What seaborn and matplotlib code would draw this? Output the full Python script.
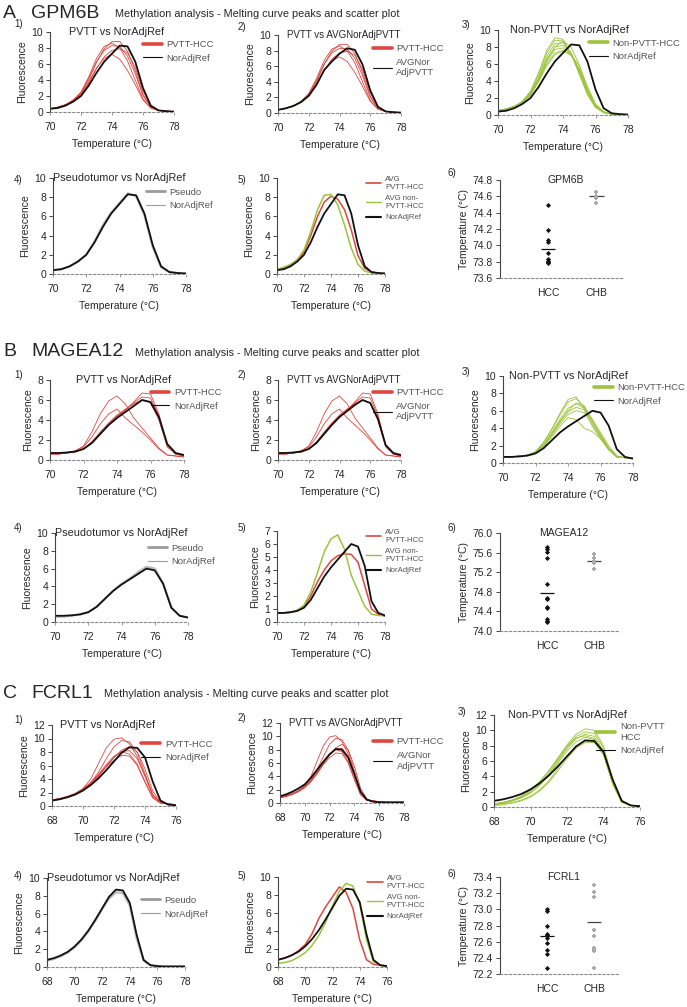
import matplotlib
matplotlib.use("Agg")
import matplotlib.pyplot as plt
from matplotlib.lines import Line2D
import pandas as pd
import seaborn as sns

# ---- shared temperature grids (°C) ----
temp_70_78 = [70.0, 70.5, 71.0, 71.5, 72.0, 72.5, 73.0, 73.5, 74.0, 74.5,
              75.0, 75.5, 76.0, 76.5, 77.0, 77.5, 78.0]
temp_68_78 = [68.0, 68.5, 69.0, 69.5, 70.0, 70.5, 71.0, 71.5, 72.0, 72.5, 73.0,
              73.5, 74.0, 74.5, 75.0, 75.5, 76.0, 76.5, 77.0, 77.5, 78.0]

# ---- A: GPM6B melting curves ----
A_nor = [0.4, 0.5, 0.8, 1.3, 2.0, 3.3, 4.9, 6.3, 7.3, 8.3, 8.2, 6.3, 3.0, 0.8, 0.2, 0.1, 0.05]
A_avgnor = [0.4, 0.6, 0.9, 1.4, 2.2, 3.6, 5.5, 6.6, 7.6, 8.3, 8.1, 6.2, 2.9, 0.8, 0.2, 0.1, 0.05]
A_pseudo = [0.4, 0.5, 0.8, 1.3, 2.0, 3.4, 5.1, 6.4, 7.4, 8.4, 8.1, 6.1, 2.8, 0.7, 0.2, 0.1, 0.05]
A_pvtt = [
    [0.4, 0.6, 0.9, 1.4, 2.3, 4.0, 6.2, 7.9, 8.8, 8.8, 7.6, 5.2, 2.2, 0.6, 0.2, 0.1, 0.05],
    [0.4, 0.6, 0.9, 1.4, 2.2, 3.7, 5.5, 6.7, 7.2, 6.6, 5.2, 3.4, 1.5, 0.5, 0.2, 0.1, 0.05],
    [0.4, 0.6, 0.9, 1.5, 2.4, 4.2, 6.3, 7.7, 8.3, 8.2, 7.0, 4.8, 2.0, 0.6, 0.2, 0.1, 0.05],
    [0.4, 0.6, 0.9, 1.4, 2.2, 3.6, 5.4, 6.9, 7.7, 7.9, 7.4, 5.6, 2.6, 0.8, 0.2, 0.1, 0.05],
    [0.4, 0.6, 0.9, 1.5, 2.5, 4.4, 6.7, 8.2, 8.6, 8.0, 6.4, 4.0, 1.6, 0.5, 0.2, 0.1, 0.05],
]
A_nonpvtt = [
    [0.5, 0.7, 1.0, 1.6, 2.8, 5.0, 7.6, 9.1, 8.9, 7.2, 4.8, 2.4, 0.9, 0.3, 0.1, 0.05, 0.05],
    [0.5, 0.7, 1.0, 1.6, 2.7, 4.8, 7.3, 8.8, 8.7, 7.2, 4.9, 2.5, 0.9, 0.3, 0.1, 0.05, 0.05],
    [0.5, 0.7, 1.0, 1.5, 2.6, 4.5, 6.9, 8.4, 8.5, 7.3, 5.1, 2.6, 1.0, 0.3, 0.1, 0.05, 0.05],
    [0.5, 0.7, 1.0, 1.5, 2.5, 4.3, 6.6, 8.0, 8.2, 7.2, 5.2, 2.8, 1.0, 0.3, 0.1, 0.05, 0.05],
    [0.5, 0.7, 1.0, 1.5, 2.4, 4.1, 6.3, 7.7, 7.9, 7.1, 5.3, 2.9, 1.1, 0.3, 0.1, 0.05, 0.05],
    [0.5, 0.7, 1.0, 1.5, 2.4, 4.0, 6.0, 7.3, 7.6, 7.0, 5.5, 3.1, 1.2, 0.4, 0.1, 0.05, 0.05],
    [0.5, 0.7, 1.0, 1.5, 2.5, 4.2, 6.4, 8.0, 8.7, 8.0, 5.9, 3.0, 1.1, 0.3, 0.1, 0.05, 0.05],
    [0.5, 0.7, 1.0, 1.5, 2.3, 3.9, 5.8, 7.1, 7.5, 7.1, 5.8, 3.4, 1.3, 0.4, 0.1, 0.05, 0.05],
]
A_avg_pvtt = [0.4, 0.6, 0.9, 1.4, 2.3, 4.0, 6.0, 7.5, 8.1, 7.8, 6.7, 4.6, 1.9, 0.6, 0.2, 0.1, 0.05]
A_avg_non = [0.5, 0.7, 1.0, 1.5, 2.5, 4.4, 6.7, 8.2, 8.3, 7.2, 5.1, 2.7, 1.0, 0.3, 0.1, 0.05, 0.05]

# ---- B: MAGEA12 melting curves ----
B_nor = [0.7, 0.7, 0.75, 0.85, 1.1, 1.7, 2.6, 3.5, 4.2, 4.8, 5.4, 6.0, 5.8, 4.3, 1.6, 0.7, 0.5]
B_avgnor = [0.7, 0.7, 0.75, 0.85, 1.1, 1.7, 2.6, 3.5, 4.3, 4.9, 5.5, 6.0, 5.7, 4.1, 1.5, 0.7, 0.5]
B_pseudo = [0.6, 0.6, 0.7, 0.85, 1.1, 1.7, 2.6, 3.5, 4.3, 4.9, 5.6, 6.2, 6.0, 4.4, 1.6, 0.7, 0.5]
B_pvtt = [
    [0.7, 0.7, 0.75, 0.9, 1.4, 2.8, 4.6, 5.9, 6.4, 5.6, 4.2, 3.2, 2.2, 1.2, 0.5, 0.4, 0.3],
    [0.7, 0.7, 0.75, 0.9, 1.3, 2.3, 3.6, 4.6, 5.1, 4.2, 3.5, 2.8, 2.0, 1.1, 0.5, 0.4, 0.3],
    [0.6, 0.6, 0.7, 0.8, 1.1, 1.7, 2.6, 3.5, 4.3, 5.0, 5.8, 6.7, 6.6, 4.6, 1.5, 0.6, 0.4],
    [0.6, 0.6, 0.7, 0.8, 1.1, 1.8, 2.7, 3.6, 4.4, 5.0, 5.7, 6.3, 6.2, 4.4, 1.4, 0.6, 0.4],
    [0.6, 0.6, 0.7, 0.8, 1.1, 1.8, 2.8, 3.7, 4.5, 5.1, 5.6, 6.0, 5.7, 4.0, 1.3, 0.6, 0.4],
]
B_nonpvtt = [
    [0.7, 0.7, 0.8, 0.9, 1.3, 2.4, 3.9, 5.7, 7.3, 7.6, 6.2, 4.2, 2.8, 1.5, 0.7, 0.6, 0.6],
    [0.7, 0.7, 0.8, 0.9, 1.3, 2.3, 3.8, 5.5, 7.0, 7.4, 6.4, 4.6, 3.0, 1.6, 0.7, 0.6, 0.6],
    [0.7, 0.7, 0.8, 0.9, 1.2, 2.1, 3.5, 5.0, 6.3, 6.8, 6.3, 4.8, 3.3, 1.8, 0.8, 0.6, 0.6],
    [0.7, 0.7, 0.8, 0.9, 1.2, 2.0, 3.3, 4.7, 5.9, 6.4, 6.1, 5.0, 3.5, 2.0, 0.8, 0.6, 0.6],
    [0.7, 0.7, 0.8, 0.9, 1.2, 2.0, 3.2, 4.5, 5.6, 6.0, 5.8, 4.4, 3.0, 1.6, 0.7, 0.6, 0.6],
    [0.7, 0.7, 0.8, 0.9, 1.2, 1.9, 3.0, 4.2, 5.2, 5.0, 4.0, 3.6, 2.8, 1.6, 0.7, 0.6, 0.6],
    [0.7, 0.7, 0.8, 0.9, 1.2, 2.0, 3.3, 4.8, 6.0, 6.9, 6.6, 5.0, 3.2, 1.6, 0.7, 0.6, 0.6],
]
B_avg_pvtt = [0.7, 0.7, 0.75, 0.9, 1.2, 2.0, 3.1, 4.0, 4.7, 5.1, 5.25, 5.2, 4.6, 2.8, 1.0, 0.6, 0.45]
B_avg_non = [0.7, 0.7, 0.75, 0.9, 1.3, 2.3, 3.8, 5.4, 6.4, 6.7, 5.6, 3.6, 2.4, 1.2, 0.6, 0.5, 0.5]

# ---- C: FCRL1 melting curves ----
C_nor = [0.8, 1.0, 1.3, 1.7, 2.3, 3.1, 4.1, 5.3, 6.6, 7.9, 8.7, 8.6, 7.2, 3.6, 0.8,
         0.2, 0.1, 0.05, 0.05, 0.05, 0.05]
C_avgnor = [1.0, 1.3, 1.7, 2.2, 2.8, 3.8, 5.0, 6.2, 7.3, 8.1, 8.0, 6.8, 4.3, 1.7, 0.5,
            0.2, 0.1, 0.1, 0.1, 0.1, 0.1]
C_pseudo = [0.7, 0.9, 1.2, 1.6, 2.2, 3.0, 4.0, 5.2, 6.5, 7.7, 8.4, 8.3, 6.9, 3.2, 0.7,
            0.2, 0.1, 0.1, 0.1, 0.1, 0.1]
C_pvtt = [
    [0.8, 1.0, 1.3, 1.8, 2.6, 4.0, 6.3, 8.6, 9.9, 10.1, 9.2, 7.3, 4.4, 1.6, 0.5, 0.3, 0.2, 0.1, 0.1, 0.1, 0.1],
    [0.8, 1.0, 1.3, 1.8, 2.5, 3.5, 5.0, 7.0, 8.8, 9.7, 9.5, 7.9, 4.8, 1.7, 0.5, 0.3, 0.2, 0.1, 0.1, 0.1, 0.1],
    [0.9, 1.1, 1.4, 1.8, 2.4, 3.3, 4.5, 5.9, 7.2, 8.1, 8.2, 7.0, 4.5, 1.6, 0.5, 0.3, 0.2, 0.1, 0.1, 0.1, 0.1],
    [0.9, 1.1, 1.4, 1.8, 2.5, 3.4, 4.7, 6.1, 7.4, 8.0, 7.7, 6.2, 3.6, 1.3, 0.5, 0.3, 0.2, 0.1, 0.1, 0.1, 0.1],
    [0.8, 1.0, 1.3, 1.7, 2.3, 3.2, 4.4, 5.8, 7.2, 8.3, 8.8, 8.0, 5.5, 2.2, 0.6, 0.3, 0.2, 0.1, 0.1, 0.1, 0.1],
    [0.9, 1.1, 1.4, 1.9, 2.5, 3.4, 4.6, 5.8, 6.8, 7.5, 7.4, 6.0, 3.5, 1.2, 0.4, 0.3, 0.2, 0.1, 0.1, 0.1, 0.1],
]
C_nonpvtt = [
    [0.4, 0.6, 0.9, 1.4, 2.2, 3.3, 4.7, 6.4, 8.1, 9.5, 10.2, 10.0, 8.0, 3.6, 0.8, 0.2, 0.1, 0.05, 0.05, 0.05, 0.05],
    [0.4, 0.6, 0.9, 1.4, 2.2, 3.3, 4.7, 6.3, 7.9, 9.2, 9.8, 9.6, 7.7, 3.4, 0.7, 0.2, 0.1, 0.05, 0.05, 0.05, 0.05],
    [0.3, 0.5, 0.8, 1.2, 1.9, 2.9, 4.3, 5.9, 7.6, 8.9, 9.5, 9.2, 7.3, 3.2, 0.7, 0.2, 0.1, 0.05, 0.05, 0.05, 0.05],
    [0.3, 0.5, 0.8, 1.2, 1.8, 2.8, 4.1, 5.7, 7.3, 8.5, 9.1, 8.8, 7.0, 3.0, 0.6, 0.2, 0.1, 0.05, 0.05, 0.05, 0.05],
    [0.3, 0.4, 0.6, 0.9, 1.4, 2.2, 3.4, 5.0, 6.7, 8.0, 8.6, 8.4, 6.8, 3.0, 0.6, 0.2, 0.1, 0.05, 0.05, 0.05, 0.05],
    [0.2, 0.3, 0.5, 0.8, 1.3, 2.1, 3.2, 4.7, 6.3, 7.7, 8.4, 8.5, 7.0, 3.2, 0.7, 0.2, 0.1, 0.05, 0.05, 0.05, 0.05],
    [0.4, 0.6, 0.9, 1.3, 2.0, 3.0, 4.4, 6.1, 7.8, 9.0, 9.3, 8.9, 7.1, 3.1, 0.6, 0.2, 0.1, 0.05, 0.05, 0.05, 0.05],
]
C_avg_pvtt = [0.8, 1.0, 1.3, 1.8, 2.5, 3.7, 5.4, 6.7, 7.8, 8.9, 8.3, 6.5, 3.0, 0.8, 0.3,
              0.2, 0.1, 0.1, 0.1, 0.1, 0.1]
C_avg_non = [0.4, 0.5, 0.7, 1.1, 1.6, 2.4, 3.5, 5.0, 6.8, 8.4, 9.3, 9.0, 7.0, 3.0, 0.6,
             0.2, 0.1, 0.05, 0.05, 0.05, 0.05]

# ---- scatter panels: melting peak temperature (°C) ----
A_hcc = [74.50, 74.19, 74.07, 74.04, 73.91, 73.83, 73.81, 73.78, 73.80]
A_chb = [74.65, 74.60, 74.58, 74.52]
A_means = [73.96, 74.60]
B_hcc = [75.72, 75.68, 75.62, 75.48, 74.95, 74.68, 74.66, 74.50, 74.46, 74.25, 74.20, 74.18]
B_chb = [75.58, 75.50, 75.42, 75.38, 75.27]
B_means = [74.78, 75.42]
C_hcc = [73.00, 72.98, 72.80, 72.70, 72.68, 72.65, 72.58, 72.50, 72.45, 72.28]
C_chb = [73.30, 73.22, 73.15, 72.75, 72.67, 72.52, 72.50, 72.48, 72.27]
C_means = [72.67, 72.84]
groups = ["HCC", "CHB"]

RED = "#e0463f"
GREEN = "#9cc43a"
BLACK = "#111111"
GREY = "#9a9a9a"

sns.set_style("ticks")
plt.rcParams["font.family"] = ["Liberation Sans", "DejaVu Sans"]

W, H = 687, 1007
fig = plt.figure(figsize=(W / 100, H / 100), dpi=100)


def add_ax(l, t, r, b):
    return fig.add_axes([l / W, 1 - b / H, (r - l) / W, (b - t) / H])


def ftext(x, y, s, **kw):
    fig.text(x / W, 1 - y / H, s, va="center", **kw)


def style_ax(ax, ylabel):
    sns.despine(ax=ax)
    ax.spines["left"].set_color("#444444")
    ax.spines["left"].set_linewidth(0.8)
    ax.spines["bottom"].set_color("#8a8a8a")
    ax.spines["bottom"].set_linewidth(0.8)
    ax.spines["bottom"].set_linestyle((0, (2, 2)))
    ax.tick_params(axis="y", labelsize=7.5, length=3, width=0.7, color="#444444", pad=2)
    ax.tick_params(axis="x", labelsize=7.5, length=2, width=0.6, color="#8a8a8a", pad=5)
    ax.set_ylabel(ylabel, fontsize=7.5, labelpad=3)


def melt_panel(box, title, tx, temps, curves, xlim, yticks, legend, lx, ly, lfs=6.8, tfs=7.8):
    ax = add_ax(*box)
    for ys, color, lw in curves:
        sns.lineplot(x=temps, y=ys, ax=ax, color=color, linewidth=lw, legend=False)
    ax.set_xlim(*xlim)
    ax.set_ylim(yticks[0], yticks[-1])
    ax.set_xticks(list(range(xlim[0], xlim[1] + 1, 2)))
    ax.set_yticks(yticks)
    style_ax(ax, "Fluorescence")
    ax.set_xlabel("Temperature (°C)", fontsize=7.5, labelpad=5)
    ax.text(tx, 1.0, title, transform=ax.transAxes, ha="center", va="center", fontsize=tfs)
    handles = [Line2D([], [], color=c, lw=w) for _, c, w in legend]
    leg = ax.legend(handles, [t for t, _, _ in legend], loc="upper left",
                    bbox_to_anchor=(lx, ly), frameon=False, fontsize=lfs,
                    handlelength=2.0, handletextpad=0.5, labelspacing=0.5,
                    borderaxespad=0, borderpad=0)
    for t in leg.get_texts():
        t.set_color("#555555")
    return ax


def scatter_panel(box, title, hcc, chb, means, yticks, fmt="{:.1f}"):
    ax = add_ax(*box)
    df = pd.DataFrame({"group": ["HCC"] * len(hcc) + ["CHB"] * len(chb),
                       "temp": hcc + chb})
    sns.stripplot(data=df[df.group == "HCC"], x="group", y="temp", order=groups,
                  jitter=False, color=BLACK, marker="D", size=2.6, ax=ax)
    sns.stripplot(data=df[df.group == "CHB"], x="group", y="temp", order=groups,
                  jitter=False, color="#aaaaaa", marker="P", size=3.2, ax=ax)
    for i, m in enumerate(means):
        ax.hlines(m, i - 0.15, i + 0.15, color=BLACK if i == 0 else "#444444", lw=0.9)
    ax.set_xlim(-1.0, 1.55)
    ax.set_ylim(yticks[0], yticks[-1])
    ax.set_yticks(yticks)
    ax.set_yticklabels([fmt.format(v) for v in yticks])
    style_ax(ax, "Temperature (°C)")
    ax.tick_params(axis="x", length=0, pad=7)
    ax.set_xlabel("")
    ax.text(0.53, 1.0, title, transform=ax.transAxes, ha="center", va="center", fontsize=7.5)
    return ax


thin = 0.6
ref_lw = 1.3

# ======== section headers ========
for y, letter, gene, mx in [(13, "A", "GPM6B", 115), (352, "B", "MAGEA12", 135),
                            (693, "C", "FCRL1", 104)]:
    ftext(3, y, letter, fontsize=14)
    ftext(31, y, gene, fontsize=14)
    ftext(mx, y + 1, "Methylation analysis - Melting curve peaks and scatter plot", fontsize=7.8)

# panel numbers
for (x, y, s) in [(14, 24, "1)"), (238, 27, "2)"), (462, 25, "3)"),
                  (14, 180, "4)"), (238, 180, "5)"), (448, 173, "6)"),
                  (14, 375, "1)"), (238, 375, "2)"), (462, 372, "3)"),
                  (14, 528, "4)"), (238, 528, "5)"), (448, 528, "6)"),
                  (14, 720, "1)"), (238, 718, "2)"), (458, 712, "3)"),
                  (14, 876, "4)"), (238, 876, "5)"), (448, 874, "6)")]:
    ftext(x, y, s, fontsize=7)

pv_leg = ("PVTT-HCC", RED, 2.6)
non_leg = ("Non-PVTT-HCC", GREEN, 2.6)
nor_leg = ("NorAdjRef", BLACK, 0.8)
avgnor_leg = ("AVGNor\nAdjPVTT", BLACK, 0.8)
pseudo_leg = [("Pseudo", GREY, 2.0), ("NorAdjRef", GREY, 0.8)]
avg_leg = [("AVG\nPVTT-HCC", RED, 1.2), ("AVG non-\nPVTT-HCC", GREEN, 1.0), ("NorAdjRef", BLACK, 1.5)]

# ======== A: GPM6B ========
y10 = [0, 2, 4, 6, 8, 10]
melt_panel((50, 32, 174, 112), "PVTT vs NorAdjRef", 0.54, temp_70_78,
           [(c, RED, thin) for c in A_pvtt] + [(A_nor, BLACK, ref_lw)],
           (70, 78), y10, [pv_leg, nor_leg], 0.75, 0.9)
melt_panel((278, 35, 401, 113), "PVTT vs AVGNorAdjPVTT", 0.53, temp_70_78,
           [(c, RED, thin) for c in A_pvtt] + [(A_avgnor, BLACK, ref_lw)],
           (70, 78), y10, [pv_leg, avgnor_leg], 0.77, 0.88, tfs=7.0)
melt_panel((498, 30, 628, 115), "Non-PVTT vs NorAdjRef", 0.55, temp_70_78,
           [(c, GREEN, thin) for c in A_nonpvtt] + [(A_nor, BLACK, ref_lw)],
           (70, 78), y10, [non_leg, nor_leg], 0.7, 0.9)
melt_panel((53, 178, 186, 274), "Pseudotumor vs NorAdjRef", 0.5, temp_70_78,
           [(A_pseudo, "#bbbbbb", 1.6), (A_nor, BLACK, ref_lw)],
           (70, 78), y10, pseudo_leg, 0.7, 0.9)
melt_panel((277, 178, 385, 274), "", 0.5, temp_70_78,
           [(A_avg_pvtt, RED, 1.1), (A_avg_non, GREEN, 1.1), (A_nor, BLACK, ref_lw)],
           (70, 78), y10, avg_leg, 0.82, 1.02, lfs=5.6)
scatter_panel((500, 180, 623, 278), "GPM6B", A_hcc, A_chb, A_means,
              [73.6, 73.8, 74.0, 74.2, 74.4, 74.6, 74.8])

# ======== B: MAGEA12 ========
y8 = [0, 2, 4, 6, 8]
melt_panel((50, 380, 184, 460), "PVTT vs NorAdjRef", 0.55, temp_70_78,
           [(c, RED, thin) for c in B_pvtt] + [(B_nor, BLACK, ref_lw)],
           (70, 78), y8, [pv_leg, nor_leg], 0.75, 0.9)
melt_panel((278, 380, 401, 460), "PVTT vs AVGNorAdjPVTT", 0.53, temp_70_78,
           [(c, RED, thin) for c in B_pvtt] + [(B_avgnor, BLACK, ref_lw)],
           (70, 78), y8, [pv_leg, avgnor_leg], 0.77, 0.9, tfs=7.0)
melt_panel((503, 376, 633, 463), "Non-PVTT vs NorAdjRef", 0.5, temp_70_78,
           [(c, GREEN, thin) for c in B_nonpvtt] + [(B_nor, BLACK, ref_lw)],
           (70, 78), y10, [non_leg, nor_leg], 0.7, 0.92)
melt_panel((55, 533, 188, 622), "Pseudotumor vs NorAdjRef", 0.5, temp_70_78,
           [(B_pseudo, "#bbbbbb", 1.6), (B_nor, BLACK, ref_lw)],
           (70, 78), y10, pseudo_leg, 0.7, 0.88)
melt_panel((277, 531, 385, 622), "", 0.5, temp_70_78,
           [(B_avg_pvtt, RED, 1.1), (B_avg_non, GREEN, 1.1), (B_nor, BLACK, ref_lw)],
           (70, 78), [0, 1, 2, 3, 4, 5, 6, 7], avg_leg, 0.82, 1.02, lfs=5.6)
scatter_panel((500, 533, 620, 631), "MAGEA12", B_hcc, B_chb, B_means,
              [74.0, 74.4, 74.8, 75.2, 75.6, 76.0])

# ======== C: FCRL1 ========
y12 = [0, 2, 4, 6, 8, 10, 12]
melt_panel((52, 725, 176, 806), "PVTT vs NorAdjRef", 0.45, temp_68_78,
           [(c, RED, thin) for c in C_pvtt] + [(C_nor, BLACK, ref_lw)],
           (68, 76), y12, [pv_leg, nor_leg], 0.72, 0.82)
melt_panel((280, 723, 404, 803), "PVTT vs AVGNorAdjPVTT", 0.53, temp_68_78,
           [(c, RED, thin) for c in C_pvtt] + [(C_avgnor, BLACK, ref_lw)],
           (68, 78), y12, [pv_leg, avgnor_leg], 0.75, 0.82, tfs=7.0)
melt_panel((494, 715, 640, 807), "Non-PVTT vs NorAdjRef", 0.5, temp_68_78,
           [(c, GREEN, thin) for c in C_nonpvtt] + [(C_nor, BLACK, ref_lw)],
           (68, 76), y12, [("Non-PVTT\nHCC", GREEN, 2.6), nor_leg], 0.7, 0.92)
melt_panel((47, 878, 185, 967), "Pseudotumor vs NorAdjRef", 0.48, temp_68_78,
           [(C_pseudo, "#bbbbbb", 1.6), (C_nor, BLACK, ref_lw)],
           (68, 78), y10, pseudo_leg, 0.68, 0.8)
melt_panel((278, 877, 387, 967), "", 0.5, temp_68_78,
           [(C_avg_pvtt, RED, 1.1), (C_avg_non, GREEN, 1.1), (C_nor, BLACK, ref_lw)],
           (68, 76), y10, avg_leg, 0.82, 1.02, lfs=5.6)
scatter_panel((500, 877, 620, 974), "FCRL1", C_hcc, C_chb, C_means,
              [72.2, 72.4, 72.6, 72.8, 73.0, 73.2, 73.4])

fig.savefig("out.png", dpi=100, facecolor="white")
